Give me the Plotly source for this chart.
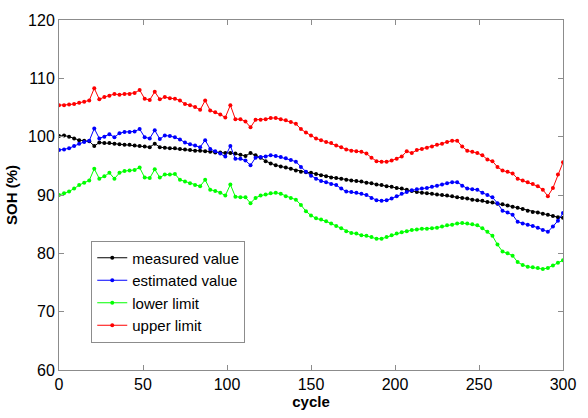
import plotly.graph_objects as go

# cycle index shared by all four series
cycle = list(range(0, 301, 3))

measured = [
    100.1, 100.2, 100.0, 99.7, 99.4, 99.3, 99.2, 98.4, 99.0, 98.9,
    98.9, 98.8, 98.7, 98.6, 98.6, 98.5, 98.4, 98.3, 98.2, 98.8,
    98.2, 98.1, 98.0, 98.0, 97.9, 97.8, 97.7, 97.6, 97.6, 97.5,
    97.4, 97.3, 97.3, 97.2, 97.2, 97.1, 96.9, 96.7, 97.2, 96.8,
    96.4, 95.8, 95.4, 95.1, 94.9, 94.7, 94.5, 94.2, 94.0, 93.9,
    93.8, 93.6, 93.4, 93.2, 93.0, 92.9, 92.8, 92.6, 92.5, 92.4,
    92.3, 92.1, 92.0, 91.8, 91.7, 91.5, 91.4, 91.2, 91.1, 90.9,
    90.7, 90.5, 90.4, 90.3, 90.2, 90.1, 90.0, 89.9, 89.8, 89.6,
    89.5, 89.4, 89.2, 89.1, 89.0, 88.8, 88.7, 88.5, 88.4, 88.2,
    88.0, 87.8, 87.6, 87.3, 87.1, 87.0, 86.8, 86.6, 86.4, 86.2,
    86.1,
]

estimated = [
    97.7, 97.8, 98.0, 98.4, 98.8, 99.1, 99.3, 101.4, 99.7, 100.0,
    100.4, 99.9, 100.6, 100.8, 100.8, 100.9, 101.3, 99.9, 99.7, 101.1,
    99.6, 100.2, 100.1, 99.9, 99.5, 99.0, 98.7, 98.5, 98.2, 99.4,
    97.9, 97.5, 97.1, 96.6, 98.4, 96.2, 96.2, 95.9, 95.1, 96.4,
    96.5, 96.6, 96.8, 96.7, 96.5, 96.3, 96.0, 95.7, 94.8, 94.0,
    93.3, 92.8, 92.4, 92.2, 91.9, 91.7, 91.1, 90.6, 90.5, 90.4,
    90.2, 90.0, 89.5, 89.1, 89.0, 89.1, 89.4, 89.8, 90.2, 90.5,
    90.8, 91.0, 91.1, 91.2, 91.4, 91.6, 91.8, 92.0, 92.2, 92.2,
    91.6, 91.1, 91.0, 90.9, 90.4, 90.0, 89.6, 88.6, 87.3, 87.0,
    86.6, 85.4, 85.1, 84.9, 84.7, 84.4, 84.0, 83.7, 84.6, 85.6,
    86.9,
]

lower = [
    90.0, 90.3, 90.6, 91.1, 91.7, 92.1, 92.5, 94.5, 92.8, 93.2,
    93.8, 92.8, 93.8, 94.1, 94.2, 94.3, 94.7, 93.0, 92.9, 94.4,
    93.0, 93.5, 93.5, 93.6, 92.6, 92.3, 92.0, 91.7, 91.5, 92.6,
    90.9, 90.7, 90.4, 89.9, 91.8, 89.7, 89.6, 89.6, 88.6, 89.5,
    89.9, 90.1, 90.3, 90.4, 90.2, 89.8, 89.5, 89.2, 88.3, 87.2,
    86.5, 86.0, 85.8, 85.5, 85.1, 84.7, 84.3, 83.8, 83.5, 83.4,
    83.1, 83.0, 82.8, 82.5, 82.5, 82.8, 83.1, 83.4, 83.6, 83.8,
    84.0, 84.1, 84.2, 84.2, 84.3, 84.4, 84.6, 84.8, 84.9, 85.1,
    85.2, 85.1, 85.0, 84.8, 84.3, 83.7, 83.0, 81.5, 80.3, 80.0,
    79.6, 78.5, 78.0, 77.7, 77.6, 77.5, 77.3, 77.5, 77.9, 78.4,
    78.8,
]

upper = [
    105.4, 105.4, 105.5, 105.6, 105.8, 106.0, 106.2, 108.3, 106.4, 106.8,
    107.0, 107.3, 107.2, 107.3, 107.3, 107.5, 108.0, 106.5, 106.3, 107.7,
    106.4, 106.8, 106.6, 106.5, 106.2, 105.6, 105.4, 105.1, 104.6, 106.2,
    104.5, 104.2, 103.8, 103.3, 105.4, 103.0, 103.0, 102.6, 101.6, 102.9,
    102.9, 103.0, 103.2, 103.2, 103.0, 102.8, 102.5, 102.2, 101.3, 100.7,
    100.2, 99.7, 99.4, 99.1, 98.9, 98.5, 98.2, 97.8, 97.6, 97.5,
    97.4, 97.1, 96.4, 95.8, 95.7, 95.7, 95.9, 96.2, 96.6, 97.5,
    97.2, 97.7, 97.9, 98.1, 98.3, 98.6, 98.8, 99.1, 99.3, 99.3,
    98.3, 97.6, 97.4, 97.2, 96.8, 96.1, 95.8, 94.8, 94.2, 94.0,
    93.7, 92.8, 92.5, 92.2, 91.9, 91.5, 90.9, 89.8, 91.2, 93.5,
    95.6,
]

x_ticks = [0, 50, 100, 150, 200, 250, 300]
y_ticks = [60, 70, 80, 90, 100, 110, 120]

series = [
    ("measured value", measured, "#000000"),
    ("estimated value", estimated, "#0000ff"),
    ("lower limit", lower, "#00ff00"),
    ("upper limit", upper, "#ff0000"),
]

fig = go.Figure()
for name, values, color in series:
    fig.add_trace(go.Scatter(
        x=cycle, y=values, name=name, mode="lines+markers",
        line=dict(color=color, width=1),
        marker=dict(color=color, size=4),
    ))

axis_common = dict(
    showline=True, linecolor="#8c8c8c", linewidth=1, mirror="ticks",
    ticks="inside", ticklen=5, tickcolor="#8c8c8c",
    showgrid=False, zeroline=False,
    tickfont=dict(family="Arial", size=16, color="#000000"),
)

fig.update_xaxes(
    range=[0, 300], tickvals=x_ticks, ticktext=[str(v) for v in x_ticks],
    title=dict(text="<b>cycle</b>", font=dict(family="Arial", size=15, color="#000000"), standoff=2),
    **axis_common,
)
fig.update_yaxes(
    range=[60, 120], tickvals=y_ticks, ticktext=[str(v) for v in y_ticks],
    title=dict(text="<b>SOH (%)</b>", font=dict(family="Arial", size=15, color="#000000"), standoff=6),
    **axis_common,
)

fig.update_layout(
    width=588, height=418,
    margin=dict(l=59, r=16, t=15, b=41),
    paper_bgcolor="#ffffff", plot_bgcolor="#ffffff",
    legend=dict(
        x=0.064, y=0.37, xanchor="left", yanchor="top",
        bgcolor="#ffffff", bordercolor="#8c8c8c", borderwidth=1,
        font=dict(family="Arial", size=15, color="#000000"),
        tracegroupgap=0, itemwidth=30,
    ),
    showlegend=True,
)

fig.write_html("out.html")
